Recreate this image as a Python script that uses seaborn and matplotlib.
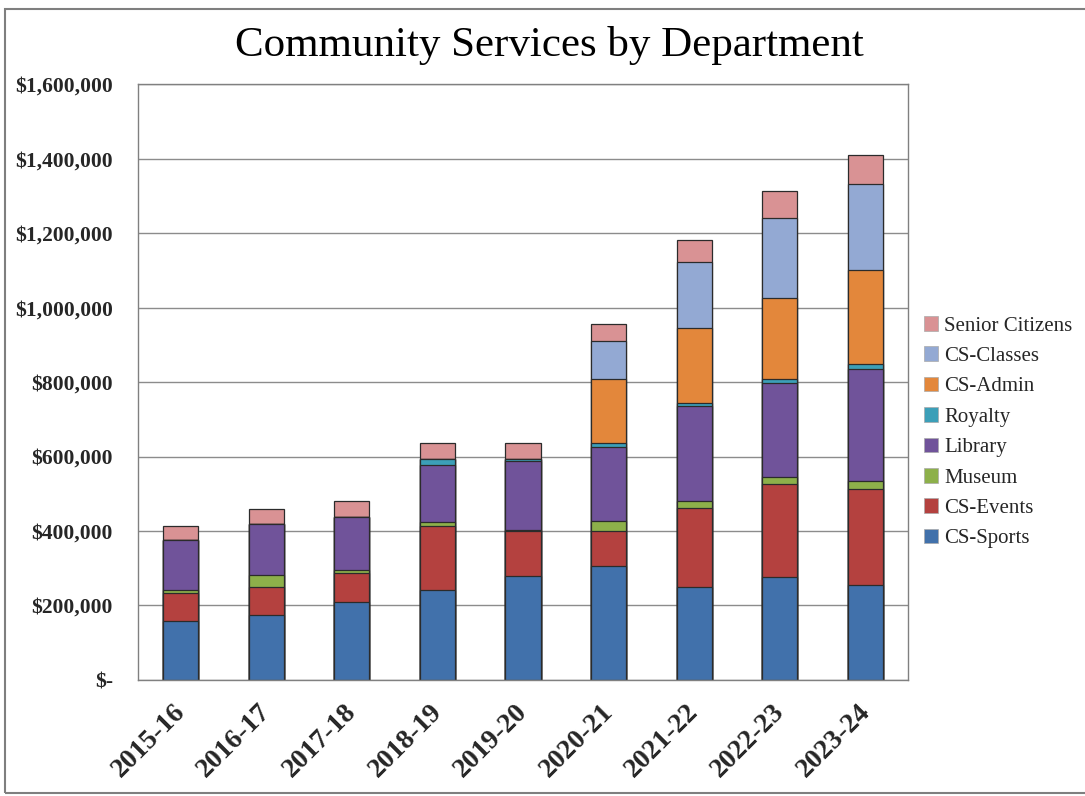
import numpy as np
import pandas as pd
import matplotlib
matplotlib.use('Agg')
import matplotlib.pyplot as plt
import matplotlib.transforms as mtransforms
import seaborn as sns
from matplotlib.patches import Patch, Rectangle
from matplotlib.ticker import FuncFormatter, MultipleLocator

# data (dollars)
years = ['2015-16', '2016-17', '2017-18', '2018-19', '2019-20',
         '2020-21', '2021-22', '2022-23', '2023-24']
cs_sports = [158000, 174000, 209000, 240000, 280000, 306000, 248000, 275000, 254000]
cs_events = [75000, 74000, 77000, 173000, 120000, 94000, 213000, 250000, 259000]
museum = [7000, 34000, 9000, 10000, 3000, 28000, 19000, 19000, 22000]
library = [136000, 137000, 143000, 154000, 185000, 198000, 257000, 254000, 301000]
royalty = [0, 0, 0, 15000, 6000, 9000, 8000, 9000, 13000]
cs_admin = [0, 0, 0, 0, 0, 174000, 201000, 219000, 252000]
cs_classes = [0, 0, 0, 0, 0, 102000, 177000, 214000, 231000]
senior = [37000, 40000, 43000, 43000, 43000, 46000, 60000, 73000, 77000]

series_names = ['CS-Sports', 'CS-Events', 'Museum', 'Library', 'Royalty',
                'CS-Admin', 'CS-Classes', 'Senior Citizens']
series_vals = [cs_sports, cs_events, museum, library, royalty,
               cs_admin, cs_classes, senior]
colors = ['#4171AB', '#B4413F', '#8DB04A', '#70539A', '#3C9FB8',
          '#E3873B', '#93A9D3', '#D99294']

sns.set_theme(style='white')
plt.rcParams['font.family'] = ['Liberation Serif', 'DejaVu Serif']

df = pd.DataFrame(dict(zip(series_names, series_vals)), index=years)
cum = df.cumsum(axis=1)

fig = plt.figure(figsize=(10.85, 7.96), dpi=100)
ax = fig.add_axes([0.127, 0.146, 0.710, 0.748])

# stacked bars: draw cumulative totals from the top series down
for name, col in zip(series_names[::-1], colors[::-1]):
    sns.barplot(x=years, y=cum[name].values, color=col, saturation=1,
                width=0.41, edgecolor='#2b2b2b', linewidth=0.9, ax=ax)

ax.set_ylim(0, 1600000)
ax.yaxis.set_major_locator(MultipleLocator(200000))
ax.yaxis.set_major_formatter(FuncFormatter(lambda v, p: '$-' if v == 0 else f'${v:,.0f}'))
ax.grid(axis='y', color='#8c8c8c', linewidth=1.0)
ax.set_axisbelow(True)
for s in ax.spines.values():
    s.set_color('#808080')
    s.set_linewidth(1.0)

ax.tick_params(axis='y', labelsize=15.5, length=0, pad=18)
for lbl in ax.get_yticklabels():
    lbl.set_fontweight('bold')
ax.tick_params(axis='x', labelsize=20, length=0, pad=14)
offset = mtransforms.ScaledTranslation(-0.08, 0, fig.dpi_scale_trans)
for lbl in ax.get_xticklabels():
    lbl.set_fontweight('bold')
    lbl.set_rotation(45)
    lbl.set_ha('right')
    lbl.set_rotation_mode('anchor')
    lbl.set_transform(lbl.get_transform() + offset)
ax.set_xlabel('')
ax.set_ylabel('')

handles = [Patch(facecolor=c, edgecolor='#aaaaaa', linewidth=0.5, label=n)
           for n, c in zip(series_names[::-1], colors[::-1])]
fig.legend(handles=handles, loc='center left', bbox_to_anchor=(0.834, 0.457),
           frameon=False, fontsize=15, handlelength=0.7, handleheight=0.7,
           handletextpad=0.3, labelspacing=0.52)

fig.text(0.506, 0.943, 'Community Services by Department', ha='center', va='center',
         fontsize=31, color='black')

# outer chart border
fig.patches.append(Rectangle((0.005, 0.004), 1.2, 0.985, transform=fig.transFigure,
                             fill=False, edgecolor='#7f7f7f', linewidth=1.5))

fig.savefig('out.png', dpi=100)
